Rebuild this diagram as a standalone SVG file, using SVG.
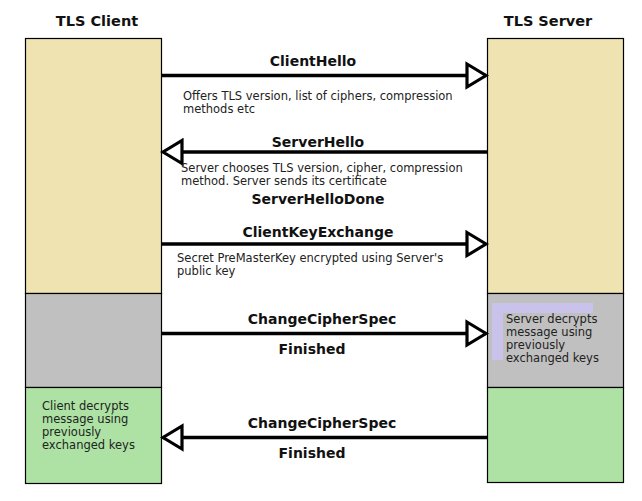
<svg xmlns="http://www.w3.org/2000/svg" width="642" height="501" viewBox="0 0 642 501">
<style>
.title{font-family:"DejaVu Sans",Verdana,sans-serif;font-weight:bold;font-size:14.5px;fill:#111;text-anchor:middle}
.lbl{font-family:"DejaVu Sans",Verdana,sans-serif;font-weight:bold;font-size:14px;fill:#111;text-anchor:middle}
.note{font-family:"DejaVu Sans",Verdana,sans-serif;font-size:11.5px;fill:#222}
.box{stroke:#000;stroke-width:1.2}
.tan{fill:#EEE3B1}
.gray{fill:#C0C0C0}
.green{fill:#ADE2A4}
.msg{stroke:#000;stroke-width:3.5;fill:none;marker-end:url(#open)}
</style>
<defs>
<marker id="open" markerUnits="userSpaceOnUse" viewBox="-3 -3 25 29" refX="19" refY="11.5" markerWidth="25" markerHeight="29" orient="auto">
<path d="M0,0 L19,11.5 L0,23 Z" fill="#fff" stroke="#000" stroke-width="3.2" stroke-linejoin="miter"/>
</marker>
</defs>
<rect width="642" height="501" fill="#fff"/>
<g id="client">
<text class="title" x="97" y="26">TLS Client</text>
<rect class="box tan" x="25.5" y="38.5" width="136" height="255"/>
<rect class="box gray" x="25.5" y="293.5" width="136" height="94"/>
<rect class="box green" x="25.5" y="387.5" width="136" height="96"/>
<text class="note" x="42" y="410">Client decrypts</text>
<text class="note" x="42" y="423">message using</text>
<text class="note" x="42" y="436">previously</text>
<text class="note" x="42" y="449">exchanged keys</text>
</g>
<g id="server">
<text class="title" x="548" y="26">TLS Server</text>
<rect class="box tan" x="487.5" y="38.5" width="136" height="255"/>
<rect class="box gray" x="487.5" y="293.5" width="136" height="94"/>
<rect class="box green" x="487.5" y="387.5" width="136" height="95"/>
<path d="M492,303 H593 V313 H503 V360 H492 Z" fill="#C9C3EC"/>
<text class="note" x="506" y="323">Server decrypts</text>
<text class="note" x="506" y="336">message using</text>
<text class="note" x="506" y="349">previously</text>
<text class="note" x="506" y="362">exchanged keys</text>
</g>
<g id="connectors">
<g id="clienthello">
<line class="msg" x1="161.5" y1="75.5" x2="486" y2="75.5"/>
<text class="lbl" x="313" y="66">ClientHello</text>
<text class="note" x="183" y="100">Offers TLS version, list of ciphers, compression</text>
<text class="note" x="183" y="113">methods etc</text>
</g>
<g id="serverhello">
<line class="msg" x1="487" y1="152" x2="163" y2="152"/>
<text class="lbl" x="318" y="147">ServerHello</text>
<text class="note" x="181" y="172">Server chooses TLS version, cipher, compression</text>
<text class="note" x="181" y="185">method. Server sends its certificate</text>
<text class="lbl" x="318" y="204">ServerHelloDone</text>
</g>
<g id="clientkeyexchange">
<line class="msg" x1="161.5" y1="244" x2="486" y2="244"/>
<text class="lbl" x="318" y="237">ClientKeyExchange</text>
<text class="note" x="177" y="262">Secret PreMasterKey encrypted using Server's</text>
<text class="note" x="177" y="275">public key</text>
</g>
<g id="ccs-client">
<line class="msg" x1="161.5" y1="333.5" x2="486" y2="333.5"/>
<text class="lbl" x="322" y="324">ChangeCipherSpec</text>
<text class="lbl" x="312" y="354">Finished</text>
</g>
<g id="ccs-server">
<line class="msg" x1="487" y1="437.5" x2="163" y2="437.5"/>
<text class="lbl" x="322" y="428">ChangeCipherSpec</text>
<text class="lbl" x="312" y="458">Finished</text>
</g>
</g>
</svg>
